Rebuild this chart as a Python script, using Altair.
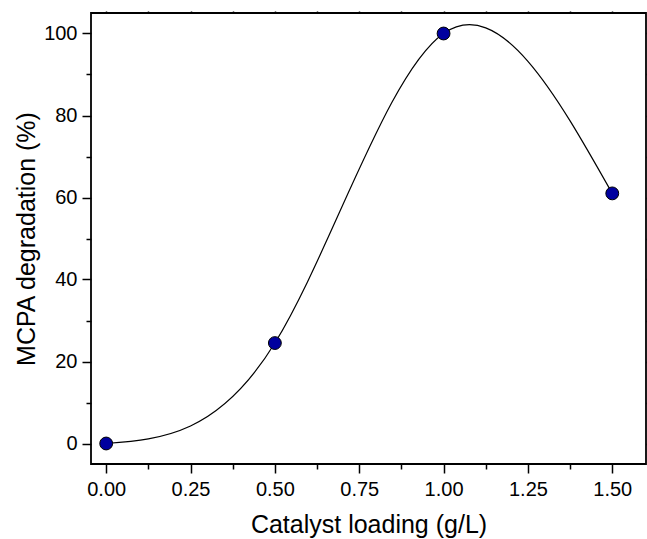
import altair as alt
import pandas as pd

# Data
loading = [0.0, 0.5, 1.0, 1.5]
degradation = [0.0, 24.5, 100.0, 61.0]

# Tick positions
x_major = [0.0, 0.25, 0.5, 0.75, 1.0, 1.25, 1.5]
x_minor = [0.125, 0.375, 0.625, 0.875, 1.125, 1.375]
x_top = [0.0, 0.125, 0.25, 0.375, 0.5, 0.625, 0.75, 0.875, 1.0, 1.125, 1.25, 1.375, 1.5]
y_major = [0, 20, 40, 60, 80, 100]
y_minor = [10, 30, 50, 70, 90]
y_right = [0, 10, 20, 30, 40, 50, 60, 70, 80, 90, 100]
x_domain = [-0.045, 1.6]
y_domain = [-5, 105]

df = pd.DataFrame({"x": loading, "y": degradation})
FONT = "Liberation Sans"

xs = alt.Scale(domain=x_domain, nice=False, zero=False)
ys = alt.Scale(domain=y_domain, nice=False, zero=False)

base = alt.Chart(df)

line = base.mark_line(interpolate="natural", color="black", strokeWidth=1.2).encode(
    x=alt.X("x:Q", scale=xs, title="Catalyst loading (g/L)",
            axis=alt.Axis(orient="bottom", values=x_major, format=".2f", tickSize=9,
                          labelPadding=6, titlePadding=13, labelFontSize=20,
                          titleFontSize=25, grid=False, domain=False)),
    y=alt.Y("y:Q", scale=ys, title="MCPA degradation (%)",
            axis=alt.Axis(orient="left", values=y_major, format="d", tickSize=9,
                          labelPadding=5, titlePadding=4, labelFontSize=20,
                          titleFontSize=25, grid=False, domain=False)),
)

minor = base.mark_line(opacity=0).encode(
    x=alt.X("x:Q", scale=xs, title="",
            axis=alt.Axis(orient="bottom", values=x_minor, labels=False, tickSize=5,
                          grid=False, domain=False)),
    y=alt.Y("y:Q", scale=ys, title="",
            axis=alt.Axis(orient="left", values=y_minor, labels=False, tickSize=5,
                          grid=False, domain=False)),
)

points = base.mark_circle(size=165, color="#00009F", stroke="black",
                          strokeWidth=1, opacity=1).encode(
    x=alt.X("x:Q", scale=xs, title="",
            axis=alt.Axis(orient="top", values=x_top, labels=False, tickSize=2,
                          grid=False, domain=False)),
    y=alt.Y("y:Q", scale=ys, title="",
            axis=alt.Axis(orient="right", values=y_right, labels=False, tickSize=3,
                          grid=False, domain=False)),
)

chart = alt.layer(line, minor, points).resolve_axis(
    x="independent", y="independent"
).properties(
    width=555, height=451,
    padding={"left": 91, "top": 13, "right": 1, "bottom": 75},
    autosize="none",
    background="white",
).configure_axis(
    labelFont=FONT, titleFont=FONT, labelColor="black", titleColor="black",
    tickColor="black", tickWidth=1.5, titleFontWeight="normal",
).configure_view(
    stroke="black", strokeWidth=1.8,
)

chart.save("out.html", embed_options={"renderer": "svg", "actions": False})
